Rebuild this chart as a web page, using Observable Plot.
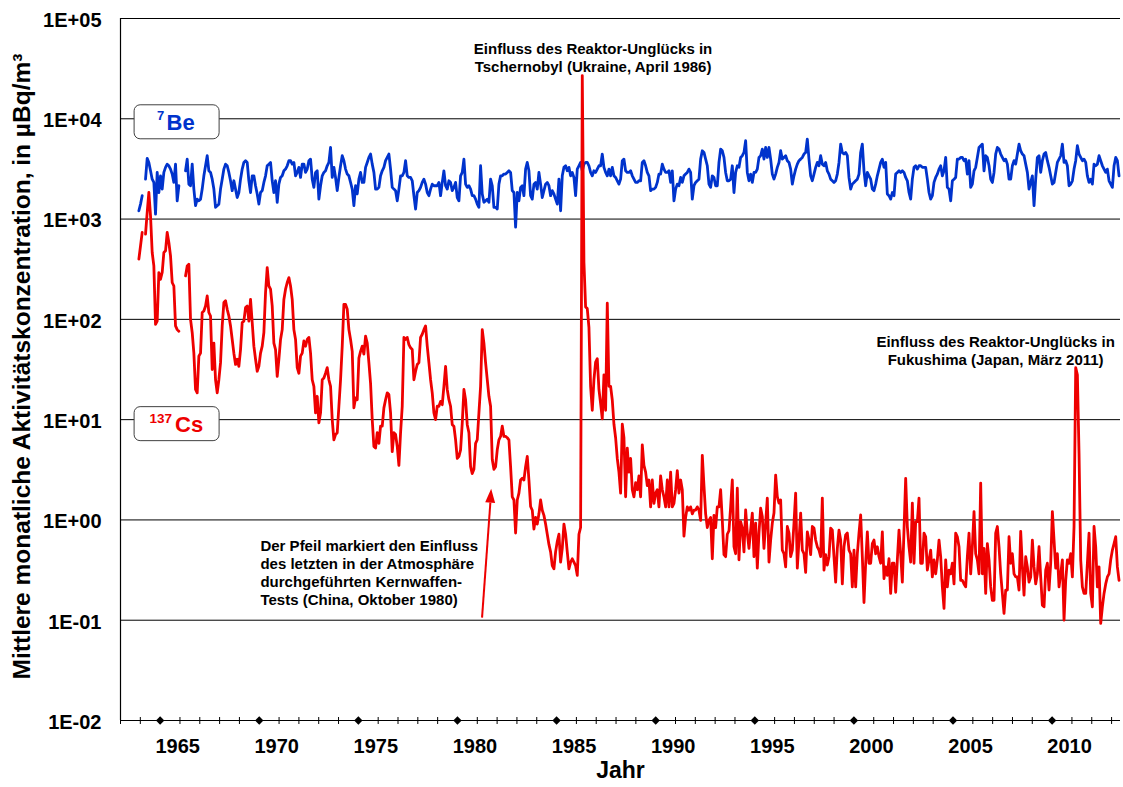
<!DOCTYPE html>
<html>
<head>
<meta charset="utf-8">
<script src="https://cdn.jsdelivr.net/npm/d3@7"></script>
<script src="https://cdn.jsdelivr.net/npm/@observablehq/plot@0.6"></script>
<style>
html, body { margin: 0; padding: 0; background: #fff; }
#chart { width: 1123px; height: 787px; }
</style>
</head>
<body>
<div id="chart"></div>
<script>
// ---- data: readings at a regular interval (years) ----
const sampleStart = 1963.926;
const sampleStep = 0.0841;

// 7Be, µBq/m³
const be7 = [
1210,1410,1710,null,2500,4030,3670,3030,2500,2320,
1120,2920,1840,2700,1990,2920,3280,3530,3400,3150,
2810,2320,3530,1520,2150,null,null,null,3030,3960,
2230,2150,3530,1990,1360,1580,1520,1580,1990,2700,
3400,4280,3030,2920,2500,1990,1310,1360,1410,1990,
2500,3150,3530,3400,2920,2410,1920,2410,1990,1640,
1840,2500,3150,3670,3820,3670,2410,1840,2700,2700,
2150,1780,1410,1840,1920,2320,2700,3400,3530,3670,
2410,1840,2410,1470,2230,2600,2700,3030,3150,3400,
3820,3820,3530,3670,2700,2920,3280,2600,3530,3530,
2920,3150,3820,3960,2500,2070,2920,3030,1580,2150,
2700,2920,3030,3400,3670,5180,2600,3280,2600,1920,
2600,3400,4280,3820,3150,2810,2700,2320,1990,1360,
2150,1780,2500,2920,2320,2320,3280,3670,4120,4450,
3530,2920,1990,1990,2070,2700,3030,3280,3820,4120,
4450,3150,2070,1990,1920,1520,1990,2700,2700,2920,
3820,2700,2600,2600,2410,1710,1260,1840,1920,2070,
2320,2500,2230,1840,1710,1990,2230,2150,2150,2150,
2320,1710,2320,3030,2150,1990,2410,2320,1920,2070,
2320,1640,1520,2700,2920,3960,2230,2070,2150,1990,
1710,1710,1580,1410,1310,3400,1780,1470,1520,1580,
1470,2500,2150,1310,1310,1260,2230,2700,2700,2810,
2810,2920,3030,2920,1920,1840,830,1840,1520,2070,
2150,1710,3150,3670,3030,1710,1580,2230,2320,1990,
2920,2230,1640,1920,2230,2320,2150,1710,1920,1780,
1580,1410,2500,1210,2700,3280,3400,3030,3280,2700,
2920,2600,1710,3150,3400,3670,3030,3530,3670,3670,
3400,2920,2700,3030,2920,3150,3400,3400,4450,3280,
2920,2700,3150,2700,3280,2700,2600,2410,2230,
2500,3820,3960,3030,2920,2920,3030,2700,2500,2320,
2320,2410,2410,3670,3820,3400,2920,2700,1920,1990,
1990,2070,2320,2810,2810,3530,3150,2920,2920,3030,
2320,3030,1520,1990,2230,2150,2600,2320,2700,2810,
2920,3150,2920,1580,2150,2320,2410,2500,3960,4800,
4620,3960,3400,2230,2070,2700,2600,2150,2150,3670,
4990,4800,4120,2920,2410,2410,2500,3400,1840,2920,
3400,3280,4120,4280,4620,6040,2920,2410,2810,2320,
2920,2920,3150,4120,4280,4990,3960,5180,4120,5180,
3960,2810,2500,2810,3280,3670,4800,3960,4120,4280,
3820,3670,3150,2230,2700,3150,3530,3820,3960,4120,
4450,4620,6280,3960,2700,2410,2810,3280,3670,3400,
4280,3530,3400,3670,3030,2810,2500,2410,2320,2410,
2810,3670,5590,4620,4450,4620,4280,2600,1990,2230,
2320,2410,2500,2810,4620,5590,3030,2150,2920,2700,
2500,1990,1920,2230,2700,3150,3670,3960,3280,3670,
1780,1710,1580,1840,1710,2810,2920,3030,2920,3030,
2920,2600,2410,1840,1580,2500,3280,3400,3150,3400,
3400,3280,3280,3280,2500,1840,1580,1710,2320,2600,
2810,3150,3400,2700,3030,4120,2070,1990,1520,2410,
2500,2600,3960,3960,4120,4120,3820,3960,2810,3820,
2070,2230,3030,3280,4120,5180,5390,5590,3030,4280,
4120,3400,2500,2320,2920,4450,5180,4990,4450,4120,
3820,3960,3530,2500,2500,3400,3820,3530,4450,5590,
4800,4450,4280,3530,2920,1990,2320,2700,1360,2500,
4120,4280,2920,3820,4450,4620,3820,3280,2700,2230,
2320,2920,3670,3960,4280,5590,3670,3820,3400,2150,
2230,2410,3150,3820,5390,4450,4120,3820,3960,3670,
2700,2320,2500,2230,3530,3400,3530,4280,3820,3400,
3150,2920,3150,2410,2230,2070,3400,4120,3820,2700
];

// 137Cs, µBq/m³
const cs137 = [
398,541,736,null,708,1166,1848,1080,464,341,
89,96,293,251,293,464,482,736,584,430,
233,215,86,79,76,null,null,null,271,341,
355,100,74,46,20,18.5,43,46,117,121,
136,171,117,108,31.6,58,25,18.5,25,37,
86,147,153,126,108,86,63,46,35.5,40,
34,50,93,96,131,136,96,158,93,54,
40,30.4,34,46,54,74,185,328,215,200,
136,58,50,27,40,63,79,158,200,233,
261,215,158,79,63,33,29,43,46,61,
54,63,66,46,25,21.5,11.7,17.1,9.3,11.7,
25,26,29,33,25,21.5,
10,6.3,7.1,7.4,13.6,25,54,141,141,126,
79,63,48,13.1,16.5,15.8,41,48,54,45,
68,58,37,23,10,5.4,5.2,7.4,5.8,8.6,
8.6,13.1,15.8,18.5,17.8,11.7,4.8,7.4,7.1,5.4,
3.5,7.4,13.6,66,63,66,56,52,50,25,
30.4,35.5,37,66,71,79,86,54,37,25,
18.5,11.7,10,13.6,13.6,15.2,14.1,21.5,34,20,
15.8,13.6,8.9,8.6,6.3,4.1,4.3,5.0,9.3,20,
15.8,8.9,7.4,3.4,2.9,3.2,5.8,6.3,11.7,21.5,
79,58,37,25,17.1,13.6,4.0,3.2,3.4,5.0,
6.3,6.8,8.6,6.8,6.8,6.6,6.3,3.4,1.7,1.58,
0.74,1.58,1.85,2.5,2.6,2.5,3.4,4.3,2.5,1.36,
1.25,0.81,1.06,0.91,1.15,1.58,1.25,1.11,0.91,0.72,
0.57,0.48,0.35,0.325,0.48,0.61,0.72,0.38,0.52,0.91,
0.72,0.48,0.325,0.38,0.41,0.38,0.35,0.28,0.72,0.84,
27000,370,133,128,83,21.5,12.4,25,37.5,40.5,
20,14.5,10.2,28,12.4,145,21.5,21.5,15.7,9.0,
6.6,4.1,3.0,1.85,9.0,6.6,1.7,5.2,3.0,4.1,
2.0,1.7,2.35,2.0,2.75,1.7,5.6,3.5,3.0,2.2,
2.5,1.35,2.5,1.46,1.85,2.0,1.35,2.75,2.0,1.7,
1.35,2.5,1.35,3.0,1.35,1.46,2.0,3.1,1.85,2.5,
2.0,0.69,1.06,1.35,1.25,1.35,1.15,1.25,1.25,1.35,
1.25,0.99,4.4,2.2,1.15,0.84,0.99,1.06,0.41,1.11,
0.84,1.35,1.35,2.0,0.99,0.45,0.43,0.72,0.78,1.35,
2.5,0.54,0.46,2.07,0.40,0.96,0.83,0.48,1.26,0.74,
0.52,0.79,1.17,0.43,0.93,0.33,0.74,1.31,1.08,0.52,
0.93,1.65,0.38,0.63,0.93,1.17,2.8,1.71,1.47,1.58,
0.50,0.46,0.34,0.86,0.74,0.43,0.50,0.93,1.85,0.33,
0.63,1.17,0.50,0.46,0.30,0.76,0.63,0.45,0.86,0.83,
0.63,0.54,0.50,0.43,1.65,0.316,0.45,0.355,0.43,0.83,
0.79,0.43,0.24,0.52,0.79,0.63,0.23,0.54,0.71,0.74,
0.50,0.46,0.215,0.50,0.215,0.46,0.74,1.12,0.43,0.15,
0.37,0.76,0.37,0.37,0.58,0.63,0.46,0.54,0.43,0.37,
0.76,0.26,0.34,0.28,0.41,0.185,0.37,0.37,0.19,0.40,
0.79,0.46,0.24,0.79,2.6,0.86,0.54,0.38,1.47,0.37,
0.96,0.96,1.65,0.37,0.37,0.74,
0.68,0.316,0.40,0.50,0.27,0.40,0.29,0.40,0.63,0.43,
0.215,0.131,0.40,0.215,0.316,0.29,0.37,0.23,0.74,0.68,
0.54,0.25,0.25,0.23,0.215,0.43,0.74,0.29,0.54,1.21,
0.46,0.40,0.29,2.33,0.29,0.52,0.185,0.58,0.40,0.215,
0.158,0.158,0.74,0.86,0.54,0.29,0.185,0.117,0.20,0.20,
0.68,0.37,0.46,0.29,0.27,0.27,0.20,0.77,0.34,0.178,
0.43,0.34,0.24,0.27,0.63,0.34,0.23,0.29,0.54,0.27,
0.141,0.136,0.316,0.37,0.20,0.37,1.21,0.63,0.33,0.46,
0.215,0.29,0.40,0.10,0.25,0.40,0.37,0.46,0.27,0.86,
33,28,4.6,0.40,0.215,0.185,0.185,0.37,0.74,0.185,
0.136,0.86,0.54,0.215,0.34,0.093,0.136,0.185,0.23,0.27,
0.29,0.40,0.50,0.58,0.68,0.34,0.25
];

// axes
const yTicks = [1e-2, 1e-1, 1, 10, 100, 1e3, 1e4, 1e5];
const minorYears = d3.range(1963, 2014);
const labelYears = [1965, 1970, 1975, 1980, 1985, 1990, 1995, 2000, 2005, 2010];

// texts
const yTitle = "Mittlere monatliche Aktivitätskonzentration, in µBq/m³";
const xTitle = "Jahr";
const noteChernobyl = "Einfluss des Reaktor-Unglücks in\nTschernobyl (Ukraine, April 1986)";
const noteFukushima = "Einfluss des Reaktor-Unglücks in\nFukushima (Japan, März 2011)";
const noteTest = "Der Pfeil markiert den Einfluss\ndes letzten in der Atmosphäre\ndurchgeführten Kernwaffen-\nTests (China, Oktober 1980)";

// ---- build tables ----
const toRows = arr => arr.map((v, i) => ({year: sampleStart + i * sampleStep, value: v}));
const beRows = toRows(be7);
const csRows = toRows(cs137);

const blue = "#0033cc";
const red = "#ee0000";

// custom symbols
const tickSym = {draw(c) { c.moveTo(0, -3.5); c.lineTo(0, 3.5); }};
const diamondSym = {draw(c) { c.moveTo(0, -4.2); c.lineTo(4.2, 0); c.lineTo(0, 4.2); c.lineTo(-4.2, 0); c.closePath(); }};
const boxSym = {draw(c) {
  const W = 85, H = 34, R = 6, x0 = -W/2, y0 = -H/2, x1 = W/2, y1 = H/2;
  c.moveTo(x0 + R, y0); c.lineTo(x1 - R, y0); c.arcTo(x1, y0, x1, y0 + R, R);
  c.lineTo(x1, y1 - R); c.arcTo(x1, y1, x1 - R, y1, R);
  c.lineTo(x0 + R, y1); c.arcTo(x0, y1, x0, y1 - R, R);
  c.lineTo(x0, y0 + R); c.arcTo(x0, y0, x0 + R, y0, R); c.closePath();
}};
const headSym = {draw(c) { c.moveTo(0, 0); c.lineTo(5, 14); c.lineTo(-5, 14); c.closePath(); }};

const legendX = 1965.83;
const fmtY = d => { const e = Math.round(Math.log10(d)); return "1E" + (e < 0 ? "-" : "+") + String(Math.abs(e)).padStart(2, "0"); };

const chart = Plot.plot({
  width: 1123,
  height: 787,
  marginLeft: 120,
  marginRight: 3,
  marginTop: 18,
  marginBottom: 67,
  style: {fontFamily: "'Liberation Sans', Arial, sans-serif", fontWeight: "bold", fontSize: "20px", color: "black", background: "white"},
  x: {type: "linear", domain: [1963, 2013.45], axis: null},
  y: {type: "log", domain: [1e-2, 1e5], axis: null},
  marks: [
    Plot.ruleY(yTicks, {stroke: "black", strokeWidth: 1}),
    Plot.ruleX([1963], {stroke: "black", strokeWidth: 1.2}),
    Plot.axisY({ticks: yTicks, tickFormat: fmtY, tickSize: 0, tickPadding: 19, fontSize: 20, dy: 2, label: null}),
    Plot.axisX({ticks: labelYears, tickFormat: d => String(d), tickSize: 0, tickPadding: 18, fontSize: 20, dx: 17.5, label: null}),
    Plot.dot(minorYears, {x: d => d, y: () => 1e-2, symbol: tickSym, stroke: "black", strokeWidth: 1, fill: "none"}),
    Plot.dot(labelYears, {x: d => d, y: () => 1e-2, symbol: diamondSym, fill: "black", stroke: "none"}),
    Plot.text([yTitle], {frameAnchor: "left", textAnchor: "middle", rotate: -90, dx: -98, dy: -3, fontSize: 24.5, text: d => d}),
    Plot.text([xTitle], {frameAnchor: "bottom", dy: 57.5, fontSize: 23, text: d => d}),
    // legend boxes
    Plot.dot([1e4], {x: () => legendX, y: d => d, dy: 3, symbol: boxSym, fill: "white", stroke: "#404040", strokeWidth: 1}),
    Plot.dot([10], {x: () => legendX, y: d => d, dy: 4, symbol: boxSym, fill: "white", stroke: "#404040", strokeWidth: 1}),
    Plot.text(["7"], {x: () => legendX, y: () => 1e4, text: d => d, textAnchor: "start", dx: -19.5, dy: -3, fontSize: 13, fill: blue}),
    Plot.text(["Be"], {x: () => legendX, y: () => 1e4, text: d => d, textAnchor: "start", dx: -10, dy: 4, fontSize: 22, fill: blue}),
    Plot.text(["137"], {x: () => legendX, y: () => 10, text: d => d, textAnchor: "start", dx: -27, dy: -1, fontSize: 13.5, fill: red}),
    Plot.text(["Cs"], {x: () => legendX, y: () => 10, text: d => d, textAnchor: "start", dx: -1.5, dy: 5, fontSize: 22, fill: red}),
    // annotations
    Plot.text([noteChernobyl], {x: () => 1986.84, y: () => 40800, text: d => d, fontSize: 15, lineHeight: 1.2}),
    Plot.text([noteFukushima], {x: () => 2007.15, y: () => 49, text: d => d, fontSize: 15, lineHeight: 1.2}),
    Plot.text([noteTest], {x: () => 1970.06, y: () => 0.30, text: d => d, textAnchor: "start", fontSize: 15, lineHeight: 1.2}),
    // series
    Plot.line(beRows, {x: "year", y: "value", stroke: blue, strokeWidth: 2.8, strokeLinejoin: "round"}),
    Plot.line(csRows, {x: "year", y: "value", stroke: red, strokeWidth: 2.8, strokeLinejoin: "round"}),
    // arrow
    Plot.link([0], {x1: () => 1981.24, y1: () => 0.106, x2: () => 1981.66, y2: () => 1.49, stroke: red, strokeWidth: 2}),
    Plot.dot([0], {x: () => 1981.70, y: () => 2.05, symbol: headSym, rotate: 4.1, fill: red, stroke: "none"})
  ]
});
document.getElementById("chart").appendChild(chart);
</script>
</body>
</html>
